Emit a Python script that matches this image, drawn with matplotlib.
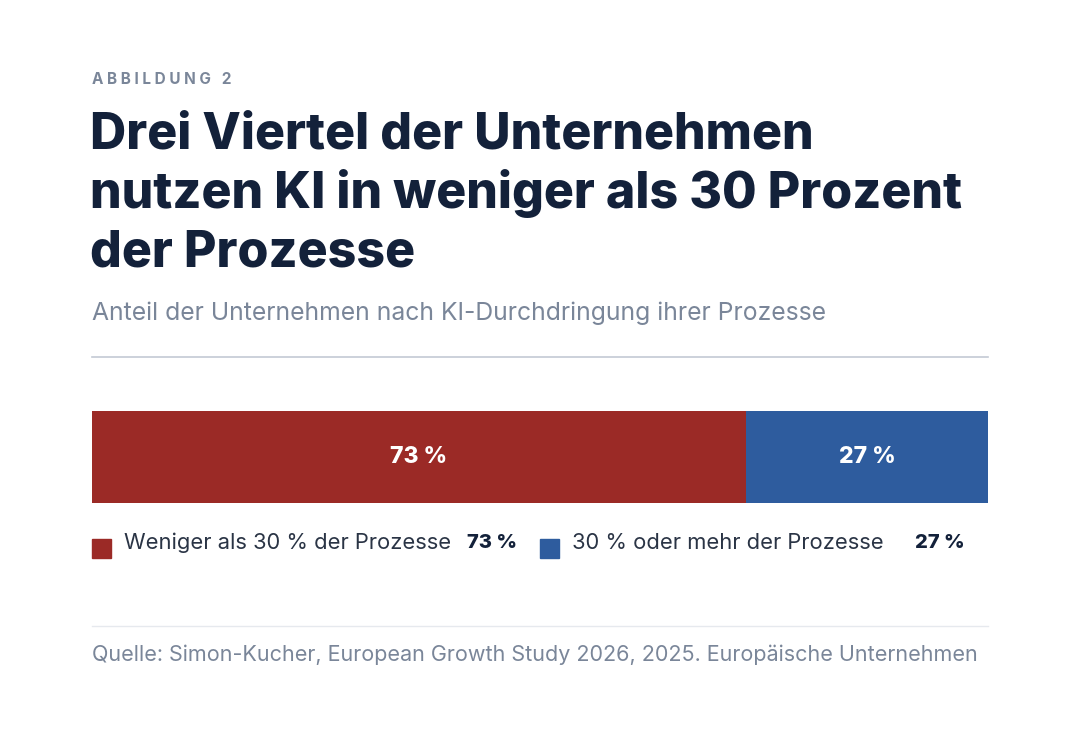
import matplotlib
matplotlib.use("Agg")
import matplotlib.pyplot as plt
from matplotlib.lines import Line2D
from matplotlib.patches import Rectangle

categories = ["Weniger als 30 % der Prozesse", "30 % oder mehr der Prozesse"]
values = [73, 27]
colors = ["#9b2a26", "#2e5c9e"]

W, H = 1080, 730
fig = plt.figure(figsize=(W/100, H/100), dpi=100)
fig.patch.set_facecolor("white")
def fy(py): return 1 - py/H
def fx(px): return px/W

dark = "#13213a"; grey = "#7a8699"
fig.text(fx(92), fy(79), "A B B I L D U N G   2", fontsize=11, fontweight="bold", color=grey,
         family="Inter", va="center")
titles = ["Drei Viertel der Unternehmen", "nutzen KI in weniger als 30 Prozent", "der Prozesse"]
for i, t in enumerate(titles):
    fig.text(fx(90), fy(135 + 59*i), t, fontsize=36, fontweight="heavy", color=dark, family="Inter",
             va="center")
fig.text(fx(92), fy(313), "Anteil der Unternehmen nach KI-Durchdringung ihrer Prozesse",
         fontsize=17.8, color=grey, family="Inter", va="center")
fig.add_artist(Line2D([fx(92), fx(988)], [fy(357), fy(357)], color="#c3cad4", lw=1.2))

ax = fig.add_axes([fx(92), fy(503), fx(896), 92/H])
left = 0
for v, c in zip(values, colors):
    ax.barh(0, v, left=left, color=c, height=1.0)
    ax.text(left + v/2, 0, f"{v} %", ha="center", va="center", color="white",
            fontsize=16.5, fontweight="heavy", family="Inter")
    left += v
ax.set_xlim(0, sum(values)); ax.set_ylim(-0.5, 0.5)
ax.axis("off")

leg_x = [92, 540]; val_x = [467, 915]
for i, (cat, v, c) in enumerate(zip(categories, values, colors)):
    fig.add_artist(Rectangle((fx(leg_x[i]), fy(558)), fx(19), 19/H, color=c))
    fig.text(fx(leg_x[i] + 32), fy(543), cat, fontsize=15.8, color="#2a3445", family="Inter", va="center")
    fig.text(fx(val_x[i]), fy(543), f"{v} %", fontsize=14.5, fontweight="heavy", color=dark,
             family="Inter", va="center")

fig.add_artist(Line2D([fx(92), fx(988)], [fy(626), fy(626)], color="#e6e9ee", lw=1))
fig.text(fx(92), fy(655), "Quelle: Simon-Kucher, European Growth Study 2026, 2025. Europäische Unternehmen",
         fontsize=15.5, color=grey, family="Inter", va="center")
fig.savefig("out.png", dpi=100, facecolor="white")
